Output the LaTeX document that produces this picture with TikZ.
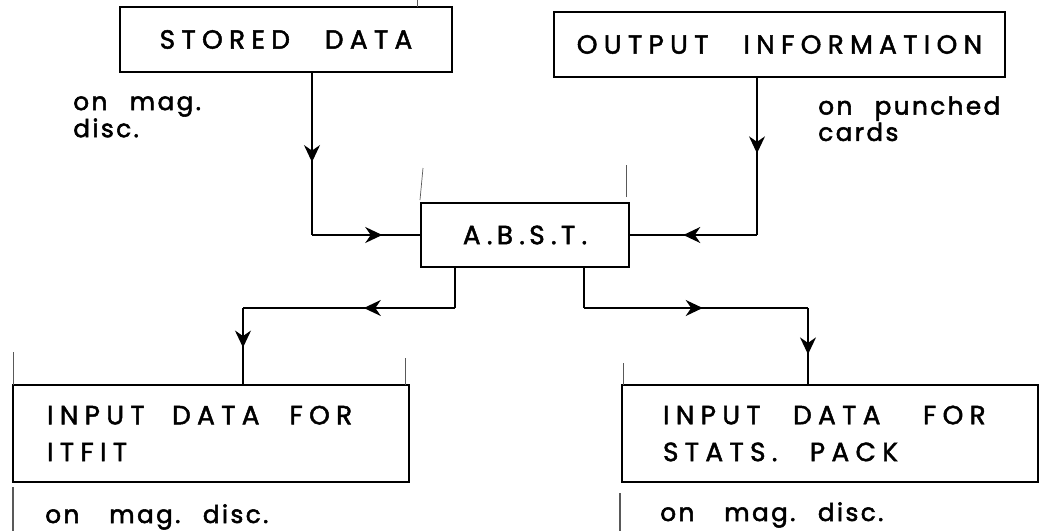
\documentclass[tikz,border=0pt]{standalone}
\usepackage{fontspec}
\usepackage{tikz}
\usetikzlibrary{arrows.meta, decorations.markings, positioning}
\newfontfamily\stencil[LetterSpace=24, FakeBold=1.8]{Poppins}
\newfontfamily\scrawl[LetterSpace=10, FakeBold=2.2]{Poppins}
\newcommand{\wgap}[1][0.7cm]{\hspace*{#1}}

\begin{document}
\begin{tikzpicture}[x=0.02cm, y=-0.02cm,
    box/.style={rectangle, draw=black, line width=1.1pt, inner sep=0pt, font=\stencil\fontsize{15}{21}\selectfont},
    note/.style={inner sep=0pt, align=left, font=\scrawl\fontsize{14}{9}\selectfont},
    line/.style={line width=0.8pt},
    flow/.style={line, postaction={decorate}, decoration={markings, mark=at position #1 with {\arrow{Stealth[length=0.34cm, width=0.32cm, inset=0.11cm]}}}},
    flow/.default=0.5,
    guide/.style={line width=0.4pt, black!65}]
    \useasboundingbox (0,0) rectangle (1049,531);

    % Nodes
    \node (stored) [box, minimum width=6.64cm, minimum height=1.3cm] at (286,39.5) {STORED\wgap DATA};
    \node (output) [box, minimum width=9.02cm, minimum height=1.3cm] at (779.5,44.5) {OUTPUT\wgap INFORMATION};
    \node (abst) [box, minimum width=4.16cm, minimum height=1.28cm] at (525,235) {A.\,B.\,S.\,T.};
    \node (itfit) [box, minimum width=7.92cm, minimum height=1.94cm, text width=6.56cm, align=left] at (211,433.5) {INPUT\wgap[0.55cm]DATA\wgap[0.6cm]FOR\\ITFIT};
    \node (stats) [box, minimum width=8.32cm, minimum height=1.94cm, text width=6.68cm, align=left] at (830,433.5) {INPUT\wgap[0.65cm]DATA\wgap[0.85cm]FOR\\STATS.\wgap[0.65cm]PACK};

    % Notes
    \node (disc1) [note, anchor=north west] at (73,96) {on\wgap[0.45cm]mag.\\disc.};
    \node (cards) [note, anchor=north west] at (818,96) {on\wgap[0.45cm]punched\\cards};
    \node (disc2) [note, anchor=base west] at (45,523) {on\wgap[0.6cm]mag.\wgap[0.45cm]disc.};
    \node (disc3) [note, anchor=base west] at (660,521) {on\wgap[0.6cm]mag.\wgap[0.45cm]disc.};

    % Corners
    \coordinate (c1) at (312,235);
    \coordinate (c2) at (757,235);
    \coordinate (c3) at (455,308);
    \coordinate (c4) at (243,308);
    \coordinate (c5) at (584,308);
    \coordinate (c6) at (808,308);

    % Arrows
    \draw [flow=0.55] (c1 |- stored.south) -- (c1);
    \draw [flow=0.65] (c1) -- (abst.west);
    \draw [flow=0.48] (c2 |- output.south) -- (c2);
    \draw [flow=0.58] (c2) -- (abst.east);
    \draw [line] (c3 |- abst.south) -- (c3);
    \draw [flow=0.43] (c3) -- (c4);
    \draw [flow=0.52] (c4) -- (c4 |- itfit.north);
    \draw [line] (c5 |- abst.south) -- (c5);
    \draw [flow=0.53] (c5) -- (c6);
    \draw [flow=0.61] (c6) -- (c6 |- stats.north);

    % Guide marks
    \draw [guide] (417,0) -- (417,7);
    \draw [guide] (420,200) -- (423,168);
    \draw [guide] (626,197) -- (626,165);
    \draw [guide] (13,385) -- (13,352);
    \draw [guide] (405,385) -- (405,358);
    \draw [guide] (623,385) -- (623,363);
    \draw [guide, line width=0.9pt] (13,487) -- (13,531);
    \draw [guide, line width=0.9pt] (620,493) -- (620,531);
\end{tikzpicture}
\end{document}
